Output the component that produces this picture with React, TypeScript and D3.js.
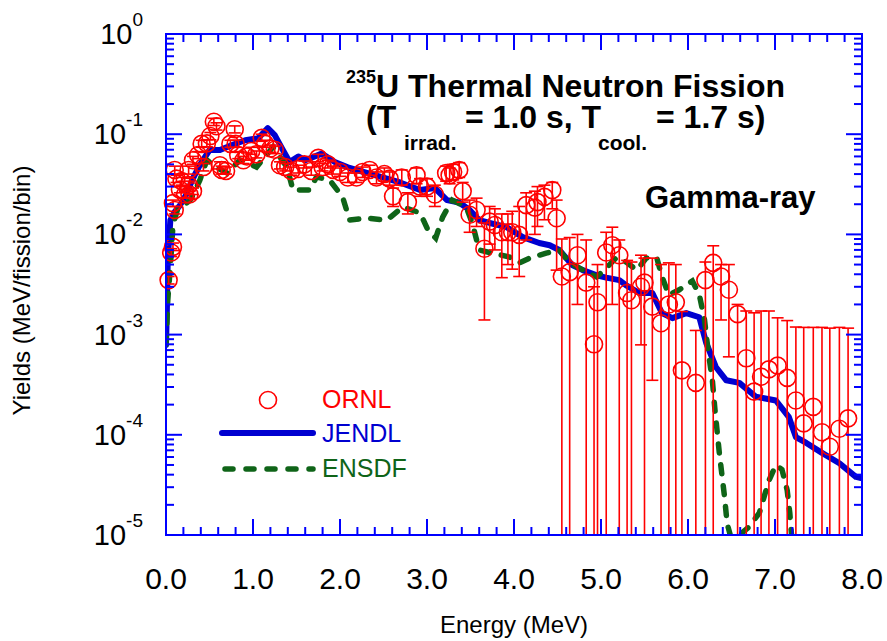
import React from "react";
import * as d3 from "d3";

// ORNL measured points (energy MeV, yield, error-bar low, error-bar high)
const ornlE = [0.03, 0.06, 0.08, 0.08, 0.1, 0.1, 0.12, 0.16, 0.18, 0.22, 0.26, 0.26, 0.27, 0.31, 0.31, 0.37, 0.41, 0.43, 0.47, 0.51,
  0.55, 0.58, 0.62, 0.64, 0.69, 0.74, 0.79, 0.8, 0.83, 0.89, 0.93, 0.98, 1.04, 1.1, 1.14, 1.2, 1.25, 1.31, 1.37, 1.44,
  1.52, 1.59, 1.67, 1.75, 1.8, 1.86, 1.92, 2.0, 2.09, 2.19, 2.26, 2.34, 2.42, 2.51, 2.57, 2.61, 2.71, 2.78, 2.88, 2.92,
  3.0, 3.09, 3.22, 3.26, 3.3, 3.37, 3.41, 3.49, 3.57, 3.66, 3.72, 3.78, 3.86, 3.93, 3.98, 4.06, 4.14, 4.24, 4.27, 4.35,
  4.44, 4.49, 4.55, 4.64, 4.73, 4.83, 4.92, 4.96, 5.06, 5.13, 5.21, 5.3, 5.35, 5.46, 5.5, 5.59, 5.69, 5.78, 5.86, 5.93,
  6.09, 6.2, 6.29, 6.38, 6.47, 6.57, 6.67, 6.76, 6.84, 6.93, 7.03, 7.14, 7.24, 7.33, 7.44, 7.54, 7.63, 7.74, 7.84];
const ornlY = [0.0035, 0.0066, 0.0075, 0.0205, 0.0175, 0.044, 0.036, 0.028, 0.034, 0.025, 0.031, 0.044, 0.025, 0.027, 0.055, 0.062, 0.08, 0.047, 0.081, 0.096,
  0.133, 0.12, 0.049, 0.044, 0.043, 0.08, 0.112, 0.08, 0.062, 0.055, 0.06, 0.068, 0.063, 0.092, 0.08, 0.072, 0.07, 0.049, 0.047, 0.043,
  0.045, 0.05, 0.043, 0.058, 0.047, 0.05, 0.044, 0.042, 0.037, 0.037, 0.042, 0.044, 0.037, 0.04, 0.036, 0.024, 0.037, 0.021, 0.039, 0.03,
  0.03, 0.025, 0.041, 0.039, 0.042, 0.044, 0.027, 0.0157, 0.0175, 0.0072, 0.0134, 0.0124, 0.0105, 0.0105, 0.0105, 0.0099, 0.0196, 0.0185, 0.021, 0.0237,
  0.0277, 0.0145, 0.0038, 0.0042, 0.0062, 0.0033, 0.0008, 0.0021, 0.0066, 0.0078, 0.0062, 0.0026, 0.0022, 0.003, 0.0033, 0.0019, 0.0013, 0.002, 0.0021, 0.00044,
  0.00033, 0.0035, 0.0052, 0.0038, 0.0028, 0.0016, 0.00058, 0.00027, 0.00038, 0.00045, 0.00049, 0.00037, 0.00022, 0.00013, 0.00019, 0.000106, 0.000076, 0.000115, 0.000146];
const ornlLo = [0.0032, 0.006, 0.0069, 0.019, 0.016, 0.04, 0.033, 0.026, 0.031, 0.023, 0.028, 0.04, 0.023, 0.025, 0.05, 0.057, 0.074, 0.043, 0.075, 0.088,
  0.122, 0.11, 0.045, 0.04, 0.04, 0.074, 0.103, 0.074, 0.057, 0.051, 0.055, 0.063, 0.058, 0.085, 0.074, 0.066, 0.064, 0.045, 0.043, 0.039,
  0.041, 0.046, 0.039, 0.053, 0.043, 0.046, 0.04, 0.038, 0.033, 0.033, 0.037, 0.039, 0.032, 0.034, 0.031, 0.019, 0.031, 0.016, 0.032, 0.024,
  0.024, 0.019, 0.034, 0.032, 0.035, 0.037, 0.021, 0.0105, 0.012, 0.0014, 0.008, 0.007, 0.0037, 0.005, 0.0045, 0.0038, 0.0088, 0.01, 0.012, 0.014,
  0.018, 0.0044, 1e-6, 1e-6, 0.002, 1e-6, 1e-6, 1e-6, 1e-6, 0.002, 1e-6, 1e-6, 1e-6, 0.00079, 1e-6, 0.00035, 1e-6, 1e-6, 1e-6, 1e-6,
  1e-6, 1e-6, 1e-6, 0.0014, 0.0006, 1e-6, 1e-6, 1e-6, 1e-6, 1e-6, 1e-6, 1e-6, 1e-6, 1e-6, 1e-6, 1e-6, 1e-6, 1e-6, 1e-6];
const ornlHi = [0.0038, 0.0072, 0.0082, 0.022, 0.019, 0.048, 0.039, 0.03, 0.037, 0.027, 0.034, 0.048, 0.027, 0.029, 0.06, 0.067, 0.087, 0.051, 0.088, 0.104,
  0.144, 0.13, 0.053, 0.048, 0.047, 0.087, 0.121, 0.087, 0.067, 0.06, 0.065, 0.074, 0.068, 0.1, 0.087, 0.078, 0.076, 0.053, 0.051, 0.047,
  0.049, 0.054, 0.047, 0.063, 0.051, 0.055, 0.048, 0.046, 0.041, 0.041, 0.047, 0.049, 0.042, 0.046, 0.042, 0.029, 0.044, 0.026, 0.046, 0.036,
  0.036, 0.031, 0.048, 0.046, 0.05, 0.052, 0.033, 0.022, 0.023, 0.013, 0.019, 0.018, 0.016, 0.016, 0.017, 0.019, 0.026, 0.027, 0.03, 0.031,
  0.033, 0.022, 0.009, 0.0093, 0.01, 0.0088, 0.003, 0.005, 0.0105, 0.0118, 0.0088, 0.0055, 0.0053, 0.0062, 0.0058, 0.0058, 0.005, 0.0052, 0.005, 0.0017,
  0.0011, 0.0053, 0.0077, 0.005, 0.005, 0.002, 0.00172, 0.00165, 0.00172, 0.00172, 0.00147, 0.00138, 0.00119, 0.00118, 0.00118, 0.00118, 0.00116, 0.00118, 0.00116];

// JENDL calculation
const jendlE = [0, 0.01, 0.02, 0.05, 0.1, 0.16, 0.23, 0.3, 0.39, 0.5, 0.62, 0.76, 0.91, 1.06, 1.17, 1.25, 1.33, 1.42, 1.52, 1.6,
  1.79, 1.94, 2.11, 2.4, 2.69, 2.92, 3.09, 3.23, 3.37, 3.49, 3.6, 3.72, 3.91, 4.1, 4.29, 4.41, 4.52, 4.67, 4.79, 4.95,
  5.06, 5.21, 5.29, 5.44, 5.59, 5.7, 5.82, 5.98, 6.13, 6.21, 6.32, 6.44, 6.59, 6.78, 7.01, 7.16, 7.24, 7.36, 7.54, 7.74, 7.93, 7.99];
const jendlY = [0.00079, 0.00176, 0.0056, 0.0139, 0.0168, 0.0195, 0.0247, 0.0349, 0.0493, 0.0695, 0.0695, 0.078, 0.087, 0.091, 0.115, 0.098, 0.073, 0.0528, 0.06, 0.055,
  0.064, 0.0528, 0.046, 0.039, 0.033, 0.0277, 0.029, 0.022, 0.0208, 0.0175, 0.0139, 0.013, 0.0119, 0.0094, 0.0082, 0.0078, 0.00698, 0.00495, 0.0044, 0.0039,
  0.0037, 0.0035, 0.0031, 0.0026, 0.0026, 0.00164, 0.00146, 0.00164, 0.00149, 0.00082, 0.000475, 0.00035, 0.00033, 0.00024, 0.00022, 0.00015, 0.000095, 0.000083, 0.000066, 0.000052, 0.000038, 0.000037];

// ENSDF evaluation
const ensdfE = [0, 0.02, 0.05, 0.08, 0.13, 0.28, 0.39, 0.47, 0.59, 0.7, 0.85, 1.04, 1.23, 1.39, 1.46, 1.56, 1.65, 1.73, 1.88, 2.03,
  2.11, 2.31, 2.54, 2.72, 2.92, 3.01, 3.1, 3.18, 3.29, 3.45, 3.52, 3.6, 3.75, 3.95, 4.06, 4.18, 4.37, 4.52, 4.64, 4.79,
  4.95, 5.06, 5.18, 5.29, 5.41, 5.52, 5.64, 5.7, 5.78, 5.9, 6.05, 6.13, 6.19, 6.23, 6.28, 6.31, 6.36, 6.42, 6.45, 6.5,
  6.56, 6.62, 6.7, 6.82, 6.93, 7.01, 7.08, 7.14, 7.17, 7.19, 7.22];
const ensdfY = [0.0008, 0.0022, 0.0047, 0.0124, 0.0175, 0.022, 0.0349, 0.0553, 0.046, 0.041, 0.0553, 0.047, 0.0745, 0.047, 0.0277, 0.0277, 0.0277, 0.0374, 0.0349, 0.0236,
  0.0139, 0.0145, 0.0139, 0.0188, 0.0164, 0.0111, 0.0092, 0.0149, 0.022, 0.0188, 0.013, 0.00698, 0.0065, 0.00594, 0.00519, 0.0058, 0.0065, 0.007, 0.0052, 0.00442,
  0.00376, 0.00462, 0.0059, 0.0053, 0.0044, 0.0058, 0.0059, 0.0038, 0.00248, 0.0028, 0.00343, 0.0025, 0.0014, 0.0007, 0.00035, 0.000177, 0.000066, 0.000024, 0.000013, 0.000009,
  0.000007, 0.0000105, 0.000012, 0.0000166, 0.000035, 0.00005, 0.000045, 0.000028, 0.0000166, 0.00001, 0.000007];

const xTickLabels = ["0.0", "1.0", "2.0", "3.0", "4.0", "5.0", "6.0", "7.0", "8.0"];
const yExponents = ["0", "-1", "-2", "-3", "-4", "-5"];
const legendNames = ["ORNL", "JENDL", "ENSDF"];

const RED = "#ff0000";
const BLUE = "#0000d0";
const GREEN = "#0f6418";
const AXIS = "#0000ff";
const FONT = "'Liberation Sans', Arial, sans-serif";

export default function App() {
  const width = 887, height = 641;
  const left = 166, right = 862, top = 34, bottom = 535;

  const x = d3.scaleLinear().domain([0, 8]).range([left, right]);
  const y = d3.scaleLog().domain([1e-5, 1]).range([bottom, top]);

  const line = d3.line<[number, number]>().x(d => x(d[0])).y(d => y(d[1]));
  const jendl = line(jendlE.map((e, i) => [e, jendlY[i]]));
  const ensdf = line(ensdfE.map((e, i) => [e, ensdfY[i]]));

  const xMajor = d3.range(0, 9);
  const xMinor = d3.range(0, 41).map(i => i * 0.2).filter(v => Math.abs(v - Math.round(v)) > 1e-6);
  const yMajor = d3.range(0, 6).map(i => Math.pow(10, -i));
  const yMinor: number[] = [];
  for (let d = -5; d < 0; d++) for (let m = 2; m <= 9; m++) yMinor.push(m * Math.pow(10, d));

  const majLen = 16, minLen = 8;
  const cap = 6;

  return (
    <svg width={width} height={height} style={{ position: "absolute", left: 0, top: 0, background: "#fff" }}
      fontFamily={FONT}>
      <defs>
        <clipPath id="plot">
          <rect x={left} y={top} width={right - left} height={bottom - top} />
        </clipPath>
      </defs>

      {/* data */}
      <g clipPath="url(#plot)">
        <path d={jendl || ""} fill="none" stroke={BLUE} strokeWidth={6} strokeLinejoin="round" strokeLinecap="round" />
        <path d={ensdf || ""} fill="none" stroke={GREEN} strokeWidth={5.5} strokeDasharray="9 12" strokeLinecap="round" />
        {ornlE.map((e, i) => {
          const cx = x(e);
          const yl = Math.min(y(ornlLo[i]), bottom + 5);
          const yh = y(ornlHi[i]);
          return (
            <g key={"eb" + i} stroke={RED} strokeWidth={1.6}>
              <line x1={cx} x2={cx} y1={yh} y2={yl} />
              <line x1={cx - cap} x2={cx + cap} y1={yh} y2={yh} />
              {ornlLo[i] > 1e-5 && <line x1={cx - cap} x2={cx + cap} y1={yl} y2={yl} />}
            </g>
          );
        })}
      </g>
      {ornlE.map((e, i) => (
        <circle key={"pt" + i} cx={x(e)} cy={y(ornlY[i])} r={8.5} fill="none" stroke={RED} strokeWidth={1.6} />
      ))}

      {/* frame and ticks */}
      <g stroke={AXIS} strokeWidth={2}>
        <rect x={left} y={top} width={right - left} height={bottom - top} fill="none" />
        {xMajor.map(v => (
          <g key={"xM" + v}>
            <line x1={x(v)} x2={x(v)} y1={bottom} y2={bottom - majLen} />
            <line x1={x(v)} x2={x(v)} y1={top} y2={top + majLen} />
          </g>
        ))}
        {xMinor.map(v => (
          <g key={"xm" + v}>
            <line x1={x(v)} x2={x(v)} y1={bottom} y2={bottom - minLen} />
            <line x1={x(v)} x2={x(v)} y1={top} y2={top + minLen} />
          </g>
        ))}
        {yMajor.map(v => (
          <g key={"yM" + v}>
            <line x1={left} x2={left + majLen} y1={y(v)} y2={y(v)} />
            <line x1={right} x2={right - majLen} y1={y(v)} y2={y(v)} />
          </g>
        ))}
        {yMinor.map(v => (
          <g key={"ym" + v}>
            <line x1={left} x2={left + minLen} y1={y(v)} y2={y(v)} />
            <line x1={right} x2={right - minLen} y1={y(v)} y2={y(v)} />
          </g>
        ))}
      </g>

      {/* tick labels */}
      {xMajor.map((v, i) => (
        <text key={"xl" + v} x={x(v)} y={bottom + 54} textAnchor="middle" fontSize={30} fill="#000">
          {xTickLabels[i]}
        </text>
      ))}
      {yMajor.map((v, i) => (
        <text key={"yl" + v} x={143} y={y(v) + 10} textAnchor="end" fontSize={29} fill="#000">
          <tspan>10</tspan>
          <tspan dy={-18} fontSize={19}>{yExponents[i]}</tspan>
        </text>
      ))}

      {/* axis titles */}
      <text x={(left + right) / 2} y={633} textAnchor="middle" fontSize={24} fill="#000">Energy (MeV)</text>
      <text transform={`translate(30,${(top + bottom) / 2 + 6}) rotate(-90)`} textAnchor="middle" fontSize={24} fill="#000">
        Yields (MeV/fission/bin)
      </text>

      {/* titles */}
      <g fontWeight="bold" fill="#000">
        <text x={346} y={97} fontSize={32}>
          <tspan fontSize={18} dy={-14}>235</tspan>
          <tspan dy={14}>U Thermal Neutron Fission</tspan>
        </text>
        <text x={366} y={128} fontSize={32}>(T</text>
        <text x={404} y={150} fontSize={21}>irrad.</text>
        <text x={465} y={128} fontSize={32}>= 1.0 s, T</text>
        <text x={598} y={150} fontSize={21}>cool.</text>
        <text x={656} y={128} fontSize={32}>= 1.7 s)</text>
        <text x={645} y={208} fontSize={31}>Gamma-ray</text>
      </g>

      {/* legend */}
      <circle cx={268} cy={400} r={8.5} fill="none" stroke={RED} strokeWidth={1.6} />
      <text x={322} y={408} fontSize={25} fill={RED}>{legendNames[0]}</text>
      <line x1={222} x2={313} y1={433} y2={433} stroke={BLUE} strokeWidth={6} strokeLinecap="round" />
      <text x={322} y={442} fontSize={25} fill={BLUE}>{legendNames[1]}</text>
      <line x1={225} x2={313} y1={469} y2={469} stroke={GREEN} strokeWidth={5.5} strokeDasharray="8 13" strokeLinecap="round" />
      <text x={322} y={477} fontSize={25} fill={GREEN}>{legendNames[2]}</text>
    </svg>
  );
}
